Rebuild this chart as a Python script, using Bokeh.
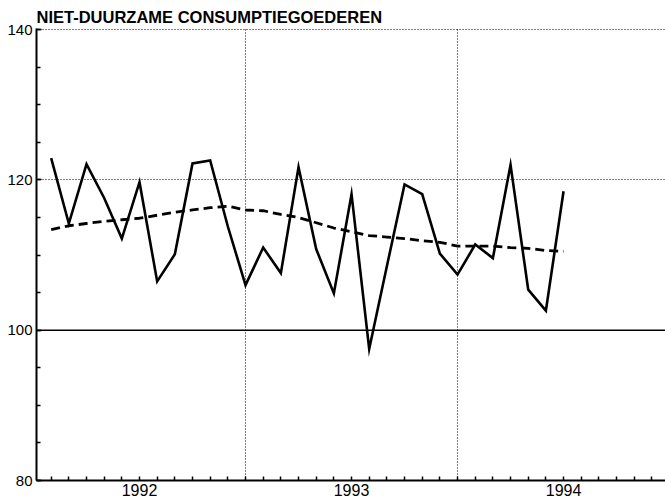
from bokeh.plotting import figure
from bokeh.models import Range1d, FixedTicker, Span
from bokeh.embed import file_html
from bokeh.resources import INLINE

# month index: 0 = start of 1992, 12 = start of 1993, 24 = start of 1994
months = list(range(1, 31))
index_values = [122.9, 114.2, 122.1, 117.6, 112.2, 119.7, 106.5, 110.1, 122.2, 122.6,
                113.8, 106.0, 111.0, 107.6, 121.7, 110.8, 104.9, 118.1, 97.5, 108.5,
                119.4, 118.1, 110.2, 107.4, 111.4, 109.6, 122.0, 105.4, 102.6, 118.5]
trend_values = [113.4, 113.9, 114.2, 114.5, 114.7, 114.9, 115.3, 115.7, 116.0, 116.3,
                116.5, 116.0, 115.9, 115.4, 115.0, 114.3, 113.6, 113.1, 112.6, 112.4,
                112.2, 111.9, 111.7, 111.2, 111.2, 111.2, 111.0, 110.9, 110.6, 110.5]
year_positions = [6, 18, 30]
year_labels = ["1992", "1993", "1994"]
year_bounds = [12, 24]
y_ticks = [80, 100, 120, 140]
title_text = "NIET-DUURZAME CONSUMPTIEGOEDEREN"

FONT = "Liberation Sans"

p = figure(width=665, height=499, output_backend="svg", toolbar_location=None,
           x_range=Range1d(0.17, 35.77), y_range=Range1d(80, 140.15),
           min_border_left=36, min_border_right=0, min_border_top=28, min_border_bottom=19)

p.outline_line_color = None
p.background_fill_color = "white"
p.border_fill_color = "white"

p.title.text = title_text
p.title.align = "left"
p.title.text_font = FONT
p.title.text_font_size = "16.5px"
p.title.text_font_style = "bold"
p.title.text_color = "black"
p.title.offset = 0
p.title.standoff = 5

# x axis
xa = p.xaxis[0]
xa.ticker = FixedTicker(ticks=year_positions, minor_ticks=list(range(0, 37)))
xa.major_label_overrides = {pos: lab for pos, lab in zip(year_positions, year_labels)}
xa.major_tick_in = 0
xa.major_tick_out = 0
xa.minor_tick_in = 4
xa.minor_tick_out = 0
xa.major_label_standoff = 3
xa.major_label_text_font = FONT
xa.major_label_text_font_size = "16px"
xa.major_label_text_color = "black"
xa.axis_line_width = 2
xa.axis_line_color = "black"
xa.minor_tick_line_color = "black"
xa.minor_tick_line_width = 1.5

# y axis
ya = p.yaxis[0]
ya.ticker = FixedTicker(ticks=y_ticks, minor_ticks=list(range(80, 141, 5)))
ya.major_tick_in = 5
ya.major_tick_out = 0
ya.minor_tick_in = 4
ya.minor_tick_out = 0
ya.major_label_standoff = 4
ya.major_label_text_font = FONT
ya.major_label_text_font_size = "15px"
ya.major_label_text_color = "black"
ya.axis_line_width = 2
ya.axis_line_color = "black"
ya.minor_tick_line_color = "black"
ya.minor_tick_line_width = 1.5
ya.major_tick_line_width = 1.5

# grids
p.xgrid.ticker = FixedTicker(ticks=year_bounds)
p.xgrid.grid_line_color = "black"
p.xgrid.grid_line_dash = "1 2"
p.xgrid.grid_line_width = 1
p.ygrid.ticker = FixedTicker(ticks=[120, 140])
p.ygrid.grid_line_color = "black"
p.ygrid.grid_line_dash = "1 2"
p.ygrid.grid_line_width = 1

p.add_layout(Span(location=100, dimension="width", line_color="black", line_width=1.5))

p.line(months, trend_values, line_color="black", line_width=2.8, line_dash="9 5")
p.line(months, index_values, line_color="black", line_width=2.6, line_join="miter")

open("out.html", "w").write(file_html(p, INLINE))
